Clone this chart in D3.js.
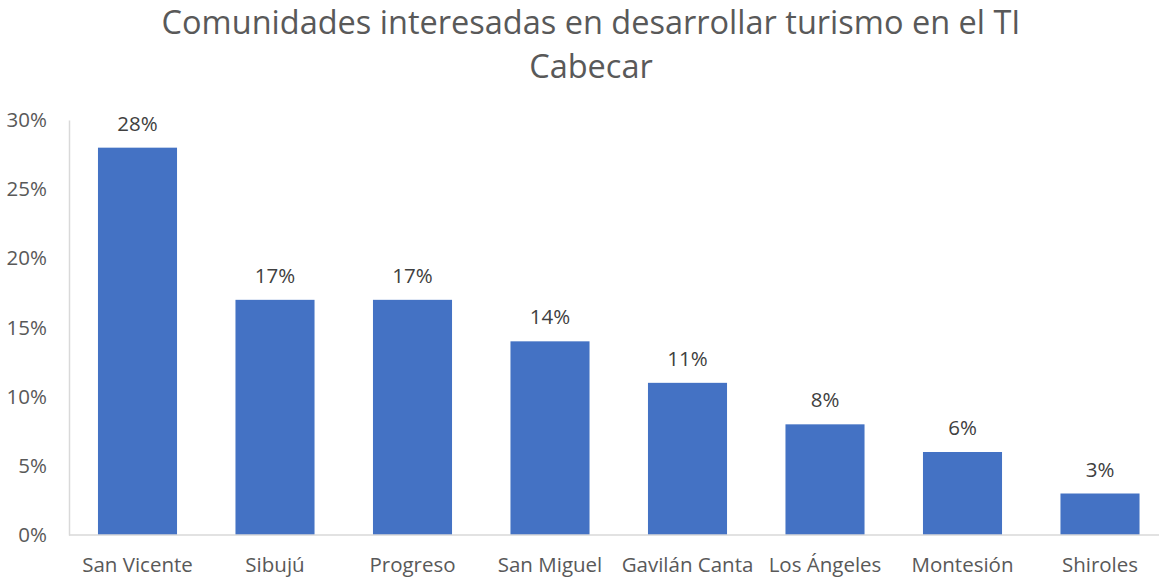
<!DOCTYPE html>
<html>
<head>
    <meta charset="utf-8">
    <title>Comunidades interesadas</title>
    <script src="https://cdn.jsdelivr.net/npm/d3@7"></script>
    <style>
        body { margin: 0; background: #fff; }
    </style>
</head>
<body>
    <div id="chart"></div>
<script>
    // chart data
    var communities = ["San Vicente", "Sibujú", "Progreso", "San Miguel", "Gavilán Canta", "Los Ángeles", "Montesión", "Shiroles"];
    var shares = [0.28, 0.17, 0.17, 0.14, 0.11, 0.08, 0.06, 0.03];
    var yTicks = [0, 0.05, 0.10, 0.15, 0.20, 0.25, 0.30];
    var titleLines = ["Comunidades interesadas en desarrollar turismo en el TI", "Cabecar"];

    var width = 1159, height = 581;
    var font = "'Open Sans', 'Noto Sans', sans-serif";

    var svg = d3.select("#chart").append("svg")
        .attr("width", width)
        .attr("height", height)
        .style("font-family", font);

    var x = d3.scaleBand()
        .domain(communities)
        .range([68.75, 1168.75])
        .paddingInner(0.425)
        .paddingOuter(0.2125);

    var y = d3.scaleLinear()
        .domain([0, 0.30])
        .range([535, 120]);

    // title
    svg.append("g").selectAll("text")
        .data(titleLines)
        .enter().append("text")
        .attr("x", 591)
        .attr("y", function (d, i) { return 34 + i * 44; })
        .attr("text-anchor", "middle")
        .attr("fill", "#595959")
        .style("font-size", "32.5px")
        .text(function (d) { return d; });

    // data labels
    svg.append("g").selectAll("rect")
        .data(shares)
        .enter().append("rect")
        .attr("x", function (d, i) { return x(communities[i]); })
        .attr("y", function (d) { return y(d); })
        .attr("width", x.bandwidth())
        .attr("height", function (d) { return y(0) - y(d); })
        .attr("fill", "#4472C4");

    svg.append("g").selectAll("text")
        .data(shares)
        .enter().append("text")
        .attr("x", function (d, i) { return x(communities[i]) + x.bandwidth() / 2; })
        .attr("y", function (d) { return y(d) - 17; })
        .attr("text-anchor", "middle")
        .attr("fill", "#404040")
        .style("font-size", "20.5px")
        .text(function (d) { return Math.round(d * 100) + "%"; });

    // y axis
    var yAxis = d3.axisLeft(y)
        .tickValues(yTicks)
        .tickSize(0)
        .tickPadding(22)
        .tickFormat(d3.format(".0%"));
    var gy = svg.append("g")
        .attr("transform", "translate(69,0)")
        .call(yAxis);
    gy.select(".domain").attr("stroke", "#d9d9d9").attr("stroke-width", 1.5);
    gy.selectAll("text").attr("fill", "#595959").style("font-size", "20.5px").style("font-family", font);

    // x axis
    var xAxis = d3.axisBottom(x).tickSize(0).tickPadding(22);
    var gx = svg.append("g")
        .attr("transform", "translate(0,535)")
        .call(xAxis);
    gx.select(".domain").attr("stroke", "#d9d9d9").attr("stroke-width", 1.5)
        .attr("d", "M69,0H1159");
    gx.selectAll("text").attr("fill", "#595959").style("font-size", "20.5px").style("font-family", font);
</script>
</body>
</html>
